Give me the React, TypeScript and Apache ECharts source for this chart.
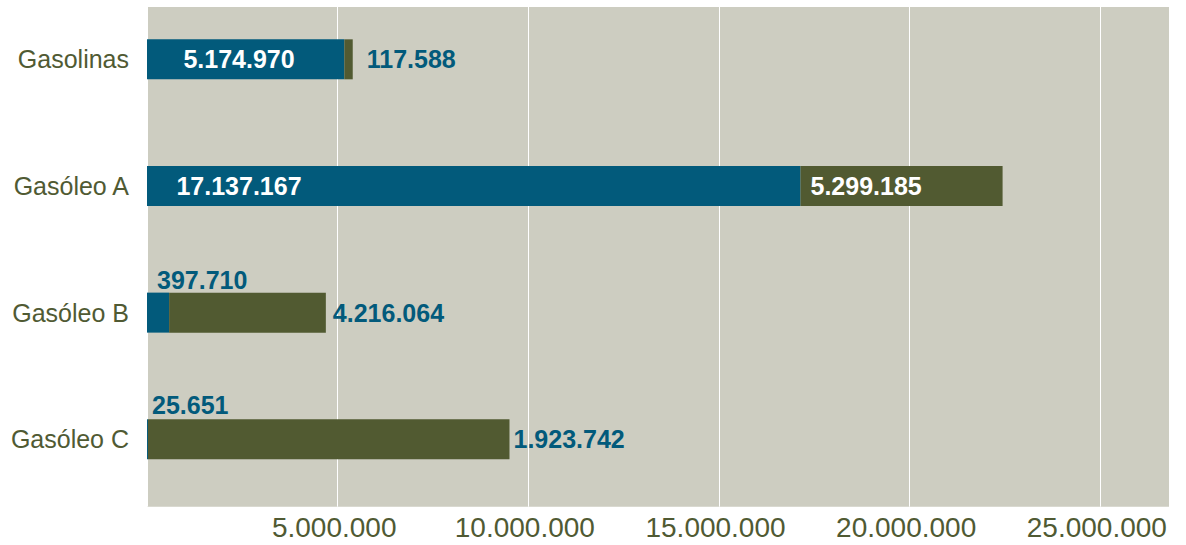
import React, { useEffect, useRef } from "react";
import * as echarts from "echarts";

const categories = ["Gasolinas", "Gasóleo A", "Gasóleo B", "Gasóleo C"];
// bar lengths as drawn in the picture
const blueValues = [5174970, 17137167, 580000, 25651];
const oliveValues = [220000, 5299185, 4110000, 9480000];
// value labels as printed in the picture
const blueLabels = ["5.174.970", "17.137.167", "397.710", "25.651"];
const oliveLabels = ["117.588", "5.299.185", "4.216.064", "1.923.742"];
const xMax = 26800000;
const xInterval = 5000000;

const BLUE = "#025a7b";
const OLIVE = "#515a31";
const BG = "#cdcdc1";
const TEXT = "#505a33";
const FONT = "'Liberation Sans', Arial, Helvetica, sans-serif";

const fmt = (v: number) =>
  v === 0 ? "" : Math.round(v).toString().replace(/\B(?=(\d{3})+(?!\d))/g, ".");

export default function App() {
  const ref = useRef<HTMLDivElement>(null);
  useEffect(() => {
    if (!ref.current) return;
    const chart = echarts.init(ref.current, null, { renderer: "svg" });

    const blueLabelCfg: any[] = [
      { position: [92, "50%"], align: "center", verticalAlign: "middle", color: "#ffffff" },
      { position: [92, "50%"], align: "center", verticalAlign: "middle", color: "#ffffff" },
      { position: [10, -13], align: "left", verticalAlign: "middle", color: BLUE },
      { position: [5, -14], align: "left", verticalAlign: "middle", color: BLUE },
    ];
    const oliveLabelCfg: any[] = [
      { position: "right", distance: 14, color: BLUE },
      { position: "insideLeft", distance: 10, color: "#ffffff" },
      { position: "right", distance: 7, color: BLUE },
      { position: "right", distance: 4, color: BLUE },
    ];
    const labelBase = { show: true, fontFamily: FONT, fontWeight: "bold", fontSize: 25 };

    const option: any = {
      animation: false,
      backgroundColor: "#ffffff",
      textStyle: { fontFamily: FONT },
      grid: [
        {
          left: 147,
          right: 17,
          top: 11,
          bottom: 38.3,
          show: true,
          backgroundColor: BG,
          borderWidth: 0,
        },
        {
          left: 147,
          right: 17,
          top: 0,
          bottom: 42.4,
          show: false,
        },
      ],
      xAxis: [
        {
          gridIndex: 0,
          type: "value",
          min: 0,
          max: xMax,
          interval: xInterval,
          axisLine: { show: false },
          axisTick: { show: false },
          splitLine: { show: true, lineStyle: { color: "#ffffff", width: 1 } },
          axisLabel: {
            showMaxLabel: false,
            showMinLabel: false,
            fontSize: 28,
            color: TEXT,
            fontFamily: FONT,
            margin: 7,
            padding: [0, 7, 0, 0],
            formatter: (v: number) => fmt(v),
          },
        },
        {
          gridIndex: 1,
          type: "value",
          min: 0,
          max: xMax,
          show: false,
          splitLine: { show: false },
        },
      ],
      yAxis: [
        { gridIndex: 0, type: "value", show: false, splitLine: { show: false } },
        {
          gridIndex: 1,
          type: "category",
          data: categories,
          inverse: true,
          axisLine: { show: false },
          axisTick: { show: false },
          axisLabel: { fontSize: 25, color: TEXT, fontFamily: FONT, margin: 18 },
        },
      ],
      series: [
        {
          type: "bar",
          name: "blue",
          stack: "total",
          xAxisIndex: 1,
          yAxisIndex: 1,
          barWidth: 40,
          itemStyle: { color: BLUE },
          data: blueValues.map((v, i) => ({
            value: v,
            label: { ...labelBase, ...blueLabelCfg[i], formatter: () => blueLabels[i] },
          })),
        },
        {
          type: "bar",
          name: "olive",
          stack: "total",
          xAxisIndex: 1,
          yAxisIndex: 1,
          barWidth: 40,
          itemStyle: { color: OLIVE },
          data: oliveValues.map((v, i) => ({
            value: v,
            label: { ...labelBase, ...oliveLabelCfg[i], formatter: () => oliveLabels[i] },
          })),
        },
      ],
    };
    chart.setOption(option);
    return () => chart.dispose();
  }, []);
  return (
    <div
      ref={ref}
      style={{ position: "absolute", left: 0, top: -4, width: 1186, height: 549 }}
    />
  );
}
